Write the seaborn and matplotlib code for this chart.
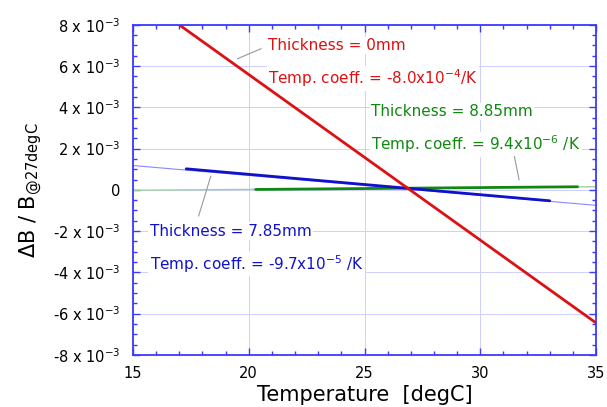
import matplotlib
matplotlib.use("Agg")
import matplotlib.pyplot as plt
from matplotlib.ticker import MultipleLocator, FixedLocator, FixedFormatter
import seaborn as sns

# measured ranges (degC) and relative change dB/B
red_temp = [17.0, 35.0]
red_dbb = [8.0e-3, -6.45e-3]

blue_temp = [17.3, 33.0]
blue_dbb = [1.02e-3, -0.53e-3]
blue_fit_temp = [15.0, 35.0]
blue_fit_dbb = [1.18e-3, -0.75e-3]

green_temp = [20.3, 34.2]
green_dbb = [0.02e-3, 0.15e-3]
green_fit_temp = [15.0, 35.0]
green_fit_dbb = [-0.02e-3, 0.15e-3]

y_ticks = [-8e-3, -6e-3, -4e-3, -2e-3, 0, 2e-3, 4e-3, 6e-3, 8e-3]
y_tick_labels = ["-8 x 10$^{-3}$", "-6 x 10$^{-3}$", "-4 x 10$^{-3}$", "-2 x 10$^{-3}$", "0",
                 "2 x 10$^{-3}$", "4 x 10$^{-3}$", "6 x 10$^{-3}$", "8 x 10$^{-3}$"]

sns.set_theme(style="white")
plt.rcParams["font.family"] = ["DejaVu Sans"]
plt.rcParams["mathtext.default"] = "regular"
plt.rcParams["text.color"] = "black"
plt.rcParams["axes.labelcolor"] = "black"

RED = "#dd1111"
BLUE = "#1111cc"
GREEN = "#118811"
AXIS = "#3a3aff"

fig = plt.figure(figsize=(6.07, 4.07), dpi=100)
ax = fig.add_axes([0.219, 0.128, 0.763, 0.811])

# thin fit lines
sns.lineplot(x=blue_fit_temp, y=blue_fit_dbb, ax=ax, color="#8888ff", linewidth=0.8, zorder=2)
sns.lineplot(x=green_fit_temp, y=green_fit_dbb, ax=ax, color="#a0d0a0", linewidth=1.0, zorder=2)

# measured data
sns.lineplot(x=green_temp, y=green_dbb, ax=ax, color=GREEN, linewidth=2.0, zorder=3)
sns.lineplot(x=blue_temp, y=blue_dbb, ax=ax, color=BLUE, linewidth=2.0, zorder=3)
sns.lineplot(x=red_temp, y=red_dbb, ax=ax, color=RED, linewidth=2.0, zorder=3)

ax.set_xlim(15, 35)
ax.set_ylim(-8e-3, 8e-3)
ax.xaxis.set_major_locator(MultipleLocator(5))
ax.xaxis.set_minor_locator(MultipleLocator(1))
ax.yaxis.set_major_locator(FixedLocator(y_ticks))
ax.yaxis.set_major_formatter(FixedFormatter(y_tick_labels))
ax.yaxis.set_minor_locator(MultipleLocator(0.5e-3))
ax.grid(True, which="major", color="#cfcfff", linewidth=0.7)

for s in ax.spines.values():
    s.set_color(AXIS)
    s.set_linewidth(1.3)
ax.tick_params(which="both", direction="in", color=AXIS, top=True, right=True,
               bottom=True, left=True, labelsize=10.5, labelcolor="black")
ax.tick_params(which="major", length=5, width=1)
ax.tick_params(which="minor", length=3, width=1)
ax.tick_params(axis="x", pad=8)
ax.tick_params(axis="y", pad=9)

ax.set_xlabel("Temperature  [degC]", fontsize=15, labelpad=3)
ax.set_ylabel(r"$\Delta$B / B$_{@27degC}$", fontsize=15, labelpad=6)

# labels sit above the grid but below the data lines
box = dict(facecolor="white", edgecolor="none", pad=1)
fs = 11
ax.text(20.83, 7.0e-3, "Thickness = 0mm", color=RED, fontsize=fs, va="center", bbox=box, zorder=1.5)
ax.text(20.83, 5.4e-3, "Temp. coeff. = -8.0x10$^{-4}$/K", color=RED, fontsize=fs, va="center", bbox=box, zorder=1.5)
ax.text(25.28, 3.8e-3, "Thickness = 8.85mm", color=GREEN, fontsize=fs, va="center", bbox=box, zorder=1.5)
ax.text(25.28, 2.2e-3, "Temp. coeff. = 9.4x10$^{-6}$ /K", color=GREEN, fontsize=fs, va="center", bbox=box, zorder=1.5)
ax.text(15.73, -2.0e-3, "Thickness = 7.85mm", color=BLUE, fontsize=fs, va="center", bbox=box, zorder=1.5)
ax.text(15.73, -3.6e-3, "Temp. coeff. = -9.7x10$^{-5}$ /K", color=BLUE, fontsize=fs, va="center", bbox=box, zorder=1.5)

# leader lines
ax.annotate("", xy=(19.4, 6.3e-3), xytext=(20.65, 6.9e-3),
            arrowprops=dict(arrowstyle="-", color="#999999", lw=0.8))
ax.annotate("", xy=(31.7, 0.35e-3), xytext=(31.45, 1.75e-3),
            arrowprops=dict(arrowstyle="-", color="#999999", lw=0.8))
ax.annotate("", xy=(18.4, 0.8e-3), xytext=(17.8, -1.4e-3),
            arrowprops=dict(arrowstyle="-", color="#999999", lw=0.8))

fig.savefig("out.png", dpi=100)
